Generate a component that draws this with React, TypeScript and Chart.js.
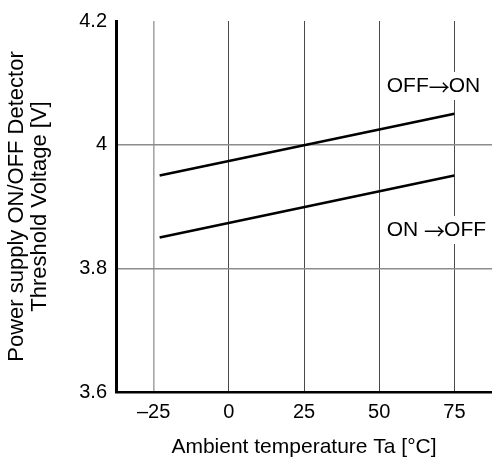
import React, { useEffect, useRef } from "react";
import { Chart, registerables } from "chart.js";

Chart.register(...registerables);

// ---- data ----
const temperatures = [-23, 75];
const offToOn = [3.95, 4.05];
const onToOff = [3.85, 3.95];
const xTickValues = [-25, 0, 25, 50, 75];
const xTickLabels = ["\u201325", "0", "25", "50", "75"];
const yTickValues = [3.6, 3.8, 4.0, 4.2];
const yTickLabels = ["3.6", "3.8", "4", "4.2"];
const seriesLabels = ["OFF\u2192ON", "ON \u2192OFF"];
const labelAnchors = [
  { x: 52.5, y: 4.095 },
  { x: 52.5, y: 3.862 },
];

const FONT = "'Liberation Sans', Arial, Helvetica, sans-serif";
const ARROW_FONT = "'Noto Sans CJK JP', 'DejaVu Sans', sans-serif";

const annotationPlugin = {
  id: "seriesAnnotations",
  afterDatasetsDraw(chart: any) {
    const { ctx, scales } = chart;
    ctx.save();
    ctx.textBaseline = "middle";
    ctx.textAlign = "left";
    seriesLabels.forEach((text, i) => {
      const px = scales.x.getPixelForValue(labelAnchors[i].x);
      const py = scales.y.getPixelForValue(labelAnchors[i].y);
      const parts = text.split("\u2192");
      ctx.font = `21px ${FONT}`;
      const w0 = ctx.measureText(parts[0]).width;
      const w2 = ctx.measureText(parts[1]).width;
      ctx.font = `21px ${ARROW_FONT}`;
      const w1 = ctx.measureText("\u2192").width;
      ctx.fillStyle = "#fff";
      ctx.fillRect(px - 2, py - 14, w0 + w1 + w2 + 4, 28);
      ctx.fillStyle = "#000";
      ctx.font = `21px ${FONT}`;
      ctx.fillText(parts[0], px, py);
      ctx.font = `21px ${ARROW_FONT}`;
      ctx.fillText("\u2192", px + w0, py + 1);
      ctx.font = `21px ${FONT}`;
      ctx.fillText(parts[1], px + w0 + w1 - 1, py);
    });
    ctx.restore();
  },
};

export default function App() {
  const ref = useRef<HTMLCanvasElement | null>(null);
  useEffect(() => {
    if (!ref.current) return;
    Chart.defaults.font.family = FONT;
    Chart.defaults.color = "#000";
    const chart = new Chart(ref.current, {
      type: "scatter",
      data: {
        datasets: [
          {
            label: seriesLabels[0],
            data: temperatures.map((t, i) => ({ x: t, y: offToOn[i] })),
            showLine: true,
            borderColor: "#000",
            borderWidth: 2.6,
            pointRadius: 0,
          },
          {
            label: seriesLabels[1],
            data: temperatures.map((t, i) => ({ x: t, y: onToOff[i] })),
            showLine: true,
            borderColor: "#000",
            borderWidth: 2.6,
            pointRadius: 0,
          },
        ],
      },
      options: {
        animation: false,
        responsive: false,
        devicePixelRatio: 1,
        layout: { padding: { top: 15, right: 0, bottom: 0, left: 0 } },
        plugins: {
          legend: { display: false },
          tooltip: { enabled: false },
        },
        scales: {
          x: {
            type: "linear",
            min: -37.5,
            max: 87.5,
            afterBuildTicks: (scale: any) => {
              scale.ticks = xTickValues.map((v) => ({ value: v }));
            },
            afterFit: (scale: any) => {
              scale.height = 69;
            },
            ticks: {
              font: { size: 20 },
              padding: 8,
              callback: (v: any) => {
                const idx = xTickValues.indexOf(Number(v));
                return idx >= 0 ? xTickLabels[idx] : "";
              },
            },
            grid: {
              drawTicks: false,
              color: (ctx: any) =>
                ctx.tick && ctx.tick.value === -25 ? "#a6a6a6" : "#4a4a4a",
              lineWidth: (ctx: any) =>
                ctx.tick && ctx.tick.value === -25 ? 1.6 : 1,
            },
            border: { display: true, color: "#000", width: 2.5 },
            title: {
              display: true,
              text: "Ambient temperature Ta [\u00b0C]",
              font: { size: 21 },
              padding: { top: 0, bottom: 1 },
            },
          },
          y: {
            type: "linear",
            min: 3.6,
            max: 4.2,
            afterBuildTicks: (scale: any) => {
              scale.ticks = yTickValues.map((v) => ({ value: v }));
            },
            afterFit: (scale: any) => {
              scale.width = 116;
            },
            ticks: {
              font: { size: 20 },
              padding: 9,
              callback: (v: any) => {
                const idx = yTickValues.findIndex((t) => Math.abs(t - Number(v)) < 1e-6);
                return idx >= 0 ? yTickLabels[idx] : "";
              },
            },
            grid: {
              drawTicks: false,
              color: (ctx: any) =>
                ctx.tick && Math.abs(ctx.tick.value - 4.2) < 1e-6
                  ? "rgba(0,0,0,0)"
                  : "#8c8c8c",
              lineWidth: 1.6,
            },
            border: { display: true, color: "#000", width: 3 },
            title: {
              display: true,
              text: ["Power supply ON/OFF Detector", "Threshold Voltage [V]"],
              font: { size: 22, lineHeight: 1.05 },
              padding: { top: 5, bottom: 0 },
            },
          },
        },
      },
      plugins: [annotationPlugin],
    });
    return () => chart.destroy();
  }, []);

  return (
    <div style={{ position: "absolute", left: 0, top: 0, width: 492, height: 461 }}>
      <canvas ref={ref} width={492} height={461} />
    </div>
  );
}
